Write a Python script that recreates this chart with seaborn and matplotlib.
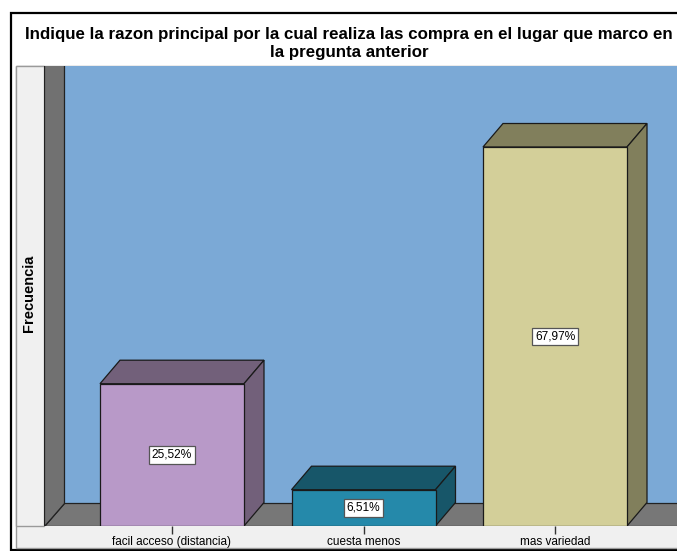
import matplotlib
matplotlib.use("Agg")
import matplotlib.pyplot as plt
from matplotlib.patches import Polygon, Rectangle
import seaborn as sns
import pandas as pd

# datos del grafico (porcentajes)
categorias = ["facil acceso (distancia)", "cuesta menos", "mas variedad"]
porcentajes = [25.52, 6.51, 67.97]
colores_frente = ["#B899C8", "#2589AA", "#D3CF99"]
colores_lado = ["#72607A", "#175669", "#817F5C"]
titulo = ["Indique la razon principal por la cual realiza las compra en el lugar que marco en",
          "la pregunta anterior"]

df = pd.DataFrame({"razon": categorias, "pct": porcentajes})

W, H = 677, 551
fig = plt.figure(figsize=(W / 100, H / 100), dpi=100)
fig.patch.set_facecolor("white")

def fx(px):
    return px / W

def fy(py):
    return 1 - py / H

# marco negro y panel gris claro (detras de los ejes)
fig.patches.append(Rectangle((fx(11), fy(550)), fx(720) - fx(11), fy(13) - fy(550),
                             transform=fig.transFigure, facecolor="white",
                             edgecolor="black", linewidth=1.6, zorder=-3))
fig.patches.append(Rectangle((fx(16), fy(548)), fx(720) - fx(16), fy(66) - fy(548),
                             transform=fig.transFigure, facecolor="#F0F0F0",
                             edgecolor="#9A9A9A", linewidth=1.0, zorder=-2))
fig.patches.append(Rectangle((fx(16), fy(526)), fx(44) - fx(16), fy(66) - fy(526),
                             transform=fig.transFigure, facecolor="#F0F0F0",
                             edgecolor="#9A9A9A", linewidth=1.0, zorder=-1))

# ejes: plano frontal, pixel -> datos
L, R, B, T = 44, 677, 526, 66
c0, paso, px_pct = 172, 191.5, 5.576
ax = fig.add_axes([fx(L), fy(B), fx(R) - fx(L), fy(T) - fy(B)])
ax.set_facecolor("#7BA9D6")

sns.barplot(data=df, x="razon", y="pct", hue="razon", palette=colores_frente,
            width=144 / paso, edgecolor="#1A1A1A", linewidth=0.9, legend=False,
            saturation=1, ax=ax, zorder=3)

xl, xr = (L - c0) / paso, (R - c0) / paso
ytop = (B - T) / px_pct
ax.set_xlim(xl, xr)
ax.set_ylim(0, ytop)
dx, dy = 20 / paso, 23.5 / px_pct

# piso y pared izquierda
ax.add_patch(Polygon([(xl, 0), (xr + 1, 0), (xr + 1, dy), (xl + dx, dy)],
                     facecolor="#777777", edgecolor="#222222", linewidth=0.9, zorder=1))
ax.add_patch(Polygon([(xl, 0), (xl, ytop + 5), (xl + dx, ytop + 5), (xl + dx, dy)],
                     facecolor="#717171", edgecolor="#222222", linewidth=0.9, zorder=1.1))

# caras 3D de cada barra
for barra, lado in zip(ax.patches[:len(categorias)], colores_lado):
    x0, w, h = barra.get_x(), barra.get_width(), barra.get_height()
    tapa = [(x0, h), (x0 + dx, h + dy), (x0 + w + dx, h + dy), (x0 + w, h)]
    costado = [(x0 + w, 0), (x0 + w + dx, dy), (x0 + w + dx, h + dy), (x0 + w, h)]
    for pts in (tapa, costado):
        ax.add_patch(Polygon(pts, facecolor=lado, edgecolor="#1A1A1A",
                             linewidth=0.9, zorder=2.5))
    etiqueta = f"{h:.2f}".replace(".", ",") + "%"
    ax.text(x0 + w / 2, h / 2, etiqueta, ha="center", va="center", fontsize=8.6,
            family="Liberation Sans", zorder=4,
            bbox=dict(boxstyle="square,pad=0.25", facecolor="white",
                      edgecolor="#555555", linewidth=0.9))

for s in ax.spines.values():
    s.set_visible(False)
ax.set_yticks([])
ax.set_xlabel("")
ax.set_ylabel("")
ax.tick_params(axis="x", length=6, width=1, color="#333333", pad=1.5,
               labelsize=8.5, labelcolor="black")
for t in ax.get_xticklabels():
    t.set_family("Liberation Sans")

fig.text(fx(29), fy(293), "Frecuencia", rotation=90, ha="center", va="center",
         fontsize=10.5, fontweight="bold", family="Liberation Sans")
for linea, y in zip(titulo, [35, 52]):
    fig.text(fx(349), fy(y), linea, ha="center", va="center", fontsize=12.2,
             fontweight="bold", family="Liberation Sans")

fig.savefig("out.png", dpi=100)
